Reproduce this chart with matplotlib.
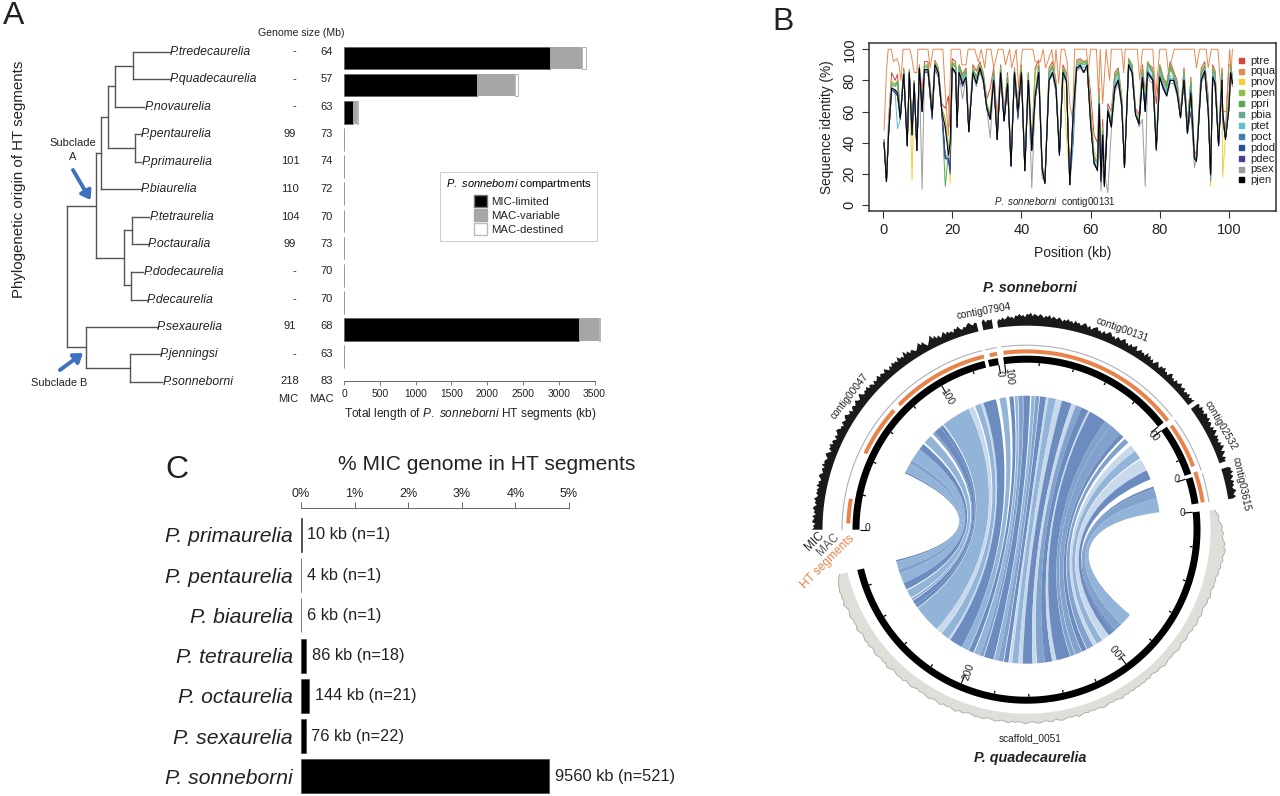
import numpy as np
import matplotlib
matplotlib.use('Agg')
import matplotlib.pyplot as plt
from matplotlib.patches import Patch, PathPatch, Polygon
from matplotlib.path import Path
from matplotlib.lines import Line2D

plt.rcParams['font.family'] = ['Liberation Sans', 'DejaVu Sans']
plt.rcParams['mathtext.fontset'] = 'custom'
plt.rcParams['mathtext.it'] = 'Liberation Sans:italic'
plt.rcParams['mathtext.rm'] = 'Liberation Sans'

W, H = 1280, 796
TXT = '#222222'

# ---------- Panel A data
species_a = ['P.tredecaurelia', 'P.quadecaurelia', 'P.novaurelia', 'P.pentaurelia', 'P.primaurelia',
             'P.biaurelia', 'P.tetraurelia', 'P.octauralia', 'P.dodecaurelia', 'P.decaurelia',
             'P.sexaurelia', 'P.jenningsi', 'P.sonneborni']
mic_size = ['-', '-', '-', '99', '101', '110', '104', '99', '-', '-', '91', '-', '218']
mac_size = ['64', '57', '63', '73', '74', '72', '70', '73', '70', '70', '68', '63', '83']
mic_limited = [2880, 1860, 125, 4, 4, 4, 4, 4, 4, 4, 3280, 4]
mac_variable = [450, 530, 55, 0, 0, 0, 0, 0, 0, 0, 285, 0]
mac_destined = [50, 40, 10, 0, 0, 0, 0, 0, 0, 0, 15, 0]
ticks_a = [0, 500, 1000, 1500, 2000, 2500, 3000, 3500]

# tree: (x0, x1, y) horizontal and (x, y0, y1) vertical branches
tree_h = [(66.8, 96.4, 206), (66.8, 85.7, 347.3), (96.4, 100.7, 153.2), (96.4, 124.4, 258),
          (100.7, 108.2, 116.6), (100.7, 141, 189), (108.2, 114.6, 86), (108.2, 135.1, 148),
          (114.6, 133.1, 65.6), (114.6, 144.2, 107), (133.1, 169.9, 51.6), (133.1, 169.9, 79.3),
          (135.1, 141, 134), (135.1, 141.4, 161.5), (124.4, 131.5, 230.4), (124.4, 130.7, 285.4),
          (131.5, 149.3, 216.5), (131.5, 148.1, 244), (130.7, 143.4, 272.4), (130.7, 146.5, 299.7),
          (85.7, 156.8, 327), (85.7, 129.6, 368), (129.6, 160, 354), (129.6, 162.3, 382)]
tree_v = [(66.8, 206, 347.3), (96.4, 153.2, 258), (100.7, 116.6, 189), (108.2, 86, 148),
          (114.6, 65.6, 107), (133.1, 51.6, 79.3), (135.1, 134, 161.5), (124.4, 230.4, 285.4),
          (131.5, 216.5, 244), (130.7, 272.4, 299.7), (85.7, 327, 368), (129.6, 354, 382)]
leaf_x = [169.9, 169.9, 144.2, 141, 141.4, 141, 149.3, 148.1, 143.4, 146.5, 156.8, 160, 162.3]
leaf_y = [51.6, 79.3, 107, 134, 161.5, 189, 216.5, 244, 272.4, 299.7, 327, 354, 382]
size_y = [51.6, 79, 106.6, 134, 161.5, 189, 216.5, 244, 271.5, 299, 326, 354, 381]

# ---------- Panel B data
pos = [0.3,1,1.6,2.5,3.5,4.2,5,6,7,7.6, 8.4,9,9.8,10.5,11.3,12,13,14.2,15,16,
       17,18,18.9,19.4,20,21,21.4,22,23,24, 24.8,26,27,28,29,30,31,32,33,34,
       35,36,37,38,39,40,41,42,43,44, 45,46,46.8,48,49,50,51,52,53,54,
       55,56,57,58,59,60,61,62,62.5,63, 63.5,64,65,66,67,68,69,69.8,71,72,
       73,74,75,75.8,76.5,77,78,79,80,81, 82,83,84,85,86,87,88,89,90,90.6,
       92,93,94,94.7,95.3,96,97,98,98.2,99, 100,100.5,101]
ptre = [42,16,55,85,80,84,58,88,40,87, 50,80,38,90,72,92,92,62,93,88,
        65,62,70,50,94,92,55,90,84,88, 50,90,86,92,85,68,75,88,55,90,
        60,85,30,88,66,90,25,85,40,88, 93,26,16,88,92,80,35,90,85,15,
        62,93,94,92,93,72,45,40,75,25, 55,20,65,60,85,88,70,28,94,90,
        62,58,90,70,92,90,88,65,90,82, 78,92,86,80,60,88,52,82,35,32,
        88,92,70,22,90,86,42,88,55,48, 90,90,82]
pos_qua = [0.3,1,1.5,2.4,3,4,4.6,5.2,5.8,7.7,8.2,9,9.8,10.1,13,13.6,14.5,17.3,18,18.9,19.7,22.3,22.8,24,24.6,
           26.5,27.5,28.4,29.4,30,31.2,32,33.3,34.7,35.4,36.6,37.2,38.5,39.2,40.3,43.3,44,45.5,46.3,47,48.8,49.5,50,50.8,
           51.5,52.5,53.2,54,54.8,55.4,58.8,59.3,60,61.7,62.3,62.8,63.5,64.5,65.5,66,69,69.6,70,73.5,74.2,75,78,78.8,79.4,80,81.8,
           82.5,84.2,85.3,90,90.6,91.5,93.4,94,94.9,96.8,97.5,98,99.2,100.2,100.6,101]
pqua = [48,86,100,100,92,94,90,80,100,100,96,85,85,100,100,88,100,100,72,45,100,100,90,90,100,
        100,92,100,88,100,100,88,100,100,90,100,88,100,75,100,100,92,92,100,88,100,85,100,78,
        100,100,92,65,55,100,100,85,100,100,70,100,65,100,80,100,100,85,100,100,80,100,100,70,85,100,100,
        85,100,100,100,88,100,100,88,100,100,80,60,60,100,85,100]
pnov = [41,15,50,80,77,78,57,86,40,86, 16,79,36,89,64,89,90,60,92,87,
        62,55,40,14,92,90,52,88,82,86, 48,88,82,90,84,65,60,85,48,88,
        56,82,28,87,62,88,24,84,38,86, 90,25,15,85,90,78,34,88,46,14,
        62,92,93,91,92,65,35,30,72,20, 50,16,62,55,82,86,68,26,93,88,
        60,55,87,65,90,88,85,40,88,80, 75,88,85,77,58,85,50,80,32,30,
        85,90,65,12,88,82,40,85,18,45, 72,88,80]
ppen = [41,15,48,79,78,80,57,87,39,86, 48,80,36,89,62,90,90,60,92,87,
        62,55,36,35,92,90,52,90,83,87, 48,88,83,90,84,65,58,86,46,88,
        56,83,27,87,62,88,24,85,37,86, 90,25,15,86,90,78,34,88,84,14,
        62,92,93,91,93,60,32,28,72,18, 50,15,62,55,83,87,68,26,94,90,
        60,55,88,66,92,90,86,40,90,82, 77,90,85,78,58,86,50,80,32,30,
        86,90,66,16,88,84,40,86,58,45, 70,90,82]
ppri = [41,15,47,78,77,79,57,86,39,86, 47,79,36,88,62,89,89,60,91,86,
        61,12,34,34,91,89,52,89,82,86, 48,87,82,89,83,64,57,85,45,87,
        56,82,27,86,61,87,24,84,36,72, 89,25,15,85,89,77,34,87,83,14,
        61,91,92,90,92,58,31,27,70,18, 48,14,62,54,82,86,67,25,93,89,
        60,54,87,65,91,89,85,39,89,81, 76,89,84,77,58,85,49,79,32,30,
        85,89,65,15,87,83,40,85,57,44, 68,89,81]
pbia = [40,15,46,77,76,78,56,86,39,85, 46,78,36,88,61,88,88,59,90,86,
        60,30,33,33,90,88,51,88,80,85, 48,86,81,88,82,63,56,84,44,86,
        55,80,26,86,60,86,23,83,36,71, 88,24,15,84,88,76,33,86,82,14,
        60,90,91,90,91,56,30,26,68,17, 47,13,61,53,80,85,66,25,92,88,
        59,53,86,63,90,88,84,38,87,79, 74,87,83,75,57,84,48,78,31,29,
        84,88,64,17,86,82,39,84,56,44, 66,88,80]
ptet = [39,15,45,76,72,49,55,85,38,85, 45,77,35,87,60,87,86,57,88,85,
        60,30,30,28,88,86,50,86,78,84, 47,85,79,87,80,62,55,82,43,85,
        54,78,25,85,58,85,22,81,35,70, 86,23,14,82,86,75,32,85,81,13,
        60,90,90,88,90,54,28,24,66,16, 46,12,60,51,78,83,65,24,91,86,
        58,52,84,61,88,85,82,37,85,77, 72,83,82,74,56,82,47,75,30,28,
        82,87,62,18,84,80,38,82,55,43, 64,86,78]
poct = [39,15,45,75,72,70,55,84,38,84, 45,77,35,87,60,86,86,56,88,84,
        60,30,28,24,88,85,50,85,77,82, 47,84,78,87,79,62,55,81,42,84,
        54,77,25,84,55,84,22,80,35,68, 85,23,14,81,85,74,32,84,80,13,
        40,88,88,86,88,56,26,23,64,16, 45,12,62,50,76,81,64,24,90,85,
        58,52,82,60,86,84,81,36,83,76, 71,81,81,73,56,81,46,74,30,28,
        81,86,60,20,83,78,38,81,54,42, 63,85,77]
pdod = [40,15,45,74,73,71,56,84,38,84, 45,78,35,87,60,86,86,55,88,85,
        60,30,30,20,88,85,50,85,77,82, 47,84,78,87,80,62,55,80,42,84,
        54,77,25,84,56,84,22,80,35,68, 85,23,14,80,85,75,32,85,80,13,
        58,88,89,85,89,54,27,23,62,16, 45,12,61,50,76,80,64,24,90,85,
        58,52,82,60,85,84,80,35,82,75, 70,80,80,72,56,80,46,60,30,28,
        80,86,60,20,82,78,38,80,58,42, 62,85,78]
pdec = [40,15,45,74,72,70,55,84,38,84, 45,77,35,87,60,85,85,56,88,82,
        60,30,30,22,87,84,50,85,76,82, 47,84,77,87,79,62,55,80,42,84,
        54,77,25,84,57,84,22,80,35,68, 85,23,14,80,84,74,32,84,80,13,
        58,88,89,85,88,52,27,22,62,16, 45,12,60,50,75,80,64,24,90,85,
        58,52,82,60,84,83,80,35,82,75, 70,80,80,72,56,80,46,70,30,28,
        80,85,60,19,82,76,38,80,59,42, 62,84,78]
psex = [42,18,45,74,74,72,58,83,40,85, 46,78,36,86,10,86,86,58,88,84,
        60,48,36,35,86,85,52,84,68,82, 50,84,76,86,78,62,43,80,44,84,
        60,76,28,84,60,84,24,80,11,68, 84,17,16,80,84,72,34,84,78,15,
        60,86,88,85,88,54,28,24,60,9, 27,20,8,48,72,78,62,26,88,84,
        60,50,55,12,85,80,78,38,82,74, 70,78,78,70,58,78,46,70,24,30,
        78,84,58,22,80,74,40,78,60,44, 62,82,76]
pjen = [40,15,45,75,74,72,56,84,38,85, 45,78,35,88,60,87,87,58,90,85,
        60,50,32,40,88,85,50,85,78,82, 47,85,78,88,80,62,55,80,42,85,
        54,78,25,85,60,85,22,80,35,70, 85,23,14,80,85,75,32,85,80,13,
        60,88,90,85,90,52,27,22,65,15, 45,12,60,50,75,80,64,24,90,85,
        58,52,82,60,85,83,80,36,82,75, 70,80,80,72,56,80,46,72,30,28,
        80,86,60,20,82,78,38,80,60,42, 62,85,78]
series_names = ['ptre', 'pqua', 'pnov', 'ppen', 'ppri', 'pbia', 'ptet', 'poct', 'pdod', 'pdec', 'psex', 'pjen']
series_vals = [ptre, pqua, pnov, ppen, ppri, pbia, ptet, poct, pdod, pdec, psex, pjen]
series_cols = ['#d9433f', '#e58a50', '#f2cf3a', '#8cc04b', '#56a94f', '#66a98c', '#62bfd0',
               '#3f7fb0', '#2a4f9a', '#4a3f8f', '#9b9b9b', '#000000']

# ---------- Panel C data
species_c = ['P. primaurelia', 'P. pentaurelia', 'P. biaurelia', 'P. tetraurelia', 'P. octaurelia',
             'P. sexaurelia', 'P. sonneborni']
pct_mic = [0.012, 0.006, 0.008, 0.10, 0.155, 0.09, 4.63]
notes_c = ['10 kb (n=1)', '4 kb (n=1)', '6 kb (n=1)', '86 kb (n=18)', '144 kb (n=21)', '76 kb (n=22)', '9560 kb (n=521)']

# ---------- Circos data (angles in degrees, heights in px-scale units)
contig_span = [('contig00047', 180, 104, 1), ('contig07904', 99.5, 102.8, -1), ('contig00131', 38.0, 97.7, -1),
               ('contig02532', 36.3, 18.8, 1), ('contig03615', 17.6, 8.7, 1)]
mic_span = {'contig00047': (180, 103.6), 'contig07904': (102.2, 99.4), 'contig00131': (98, 37.6),
            'contig02532': (36.3, 19), 'contig03615': (17.3, 8.6)}
scaffold_span = (6.0, -166.6)
ht_segments = [(178, 170), (154.7, 138), (135.6, 103.8), (101.9, 99.5), (97.4, 37.7), (35.7, 20.8), (18.9, 8.8)]
mic_track = {
    'contig00047': [9,7,8,6,9,8,7,9,6,8,7,9,8,6,8,7,9,7,6,8,7,8,6,9,7,8,6,7,9,8,6,7,8,6,9,7,8,7,6,8,
                    9,7,5,8,7,9,6,8,7,5,8,6,7,9,8,6,7,5,8,7,6,8,9,7,6,8,5,7,8,6,7,9,7,6,8,10,7,6,8,7,
                    9,6,8,7,5,8,6,7,9,6,8,7,6,9,7,5,8,6,9,7,8,6,10,7,8,6,11,7,9,6,8,7,5,6,8,10,7,9,6,4,
                    6,8,11,7,9,6,8,5,7,9,6,8,6,7,5,8,7,9,6,5,7,6,8,9,7,6,8,7],
    'contig07904': [7, 9, 6, 8, 7, 8],
    'contig00131': [5,7,6,8,6,7,9,7,8,6,9,8,10,8,9,7,10,9,11,8,10,9,8,10,9,7,9,8,10,7,9,8,7,9,8,6,8,7,9,7,
                    8,6,9,7,8,6,7,9,8,6,8,5,7,8,9,6,7,5,8,6,7,9,8,6,7,5,8,7,6,8,9,6,7,5,8,6,7,9,5,6,
                    8,6,7,5,9,6,8,5,7,4,6,8,6,4,7,6,8,5,6,4,7,8,5,6,4,7,5,6,8,5,6,7,4,6,5,7,4,6,5,7],
    'contig02532': [7,8,6,9,7,8,6,9,8,7,9,6,8,7,5,8,6,9,7,5,8,6,7,5,8,6,9,7,5,8,6,4,7,5,6],
    'contig03615': [6,8,7,9,6,8,7,5,8,6,7,5,6,8,6,5,7,4],
}
mac_track = [5,7,9,8,10,12,11,13,12,13,15,14,16,15,14,15,13,14,12,13,11,12,11,12,10,11,12,10,11,10,
             9,10,11,9,10,11,9,10,9,8,10,9,8,9,10,9,8,9,8,9,
             10,9,8,9,8,7,9,8,9,8,9,8,9,8,9,8,10,9,8,9,
             8,9,10,9,8,9,8,9,8,9,10,8,9,8,9,10,9,8,10,9,
             8,9,10,9,8,9,10,9,8,9,8,10,9,8,9,10,9,8,9,10,
             9,10,9,8,9,10,9,11,10,9,10,9,11,10,9,10,11,10,9,10,
             9,10,11,10,9,11,10,11,10,9,11,12,10,11,10,11,12,11,10,12,
             11,12,11,10,12,13,11,12,11,13,12,11,12,14,12,13,12,13,12,12,11,10,8]
# ribbons: top start, top end, bottom start, bottom end (bottom angles are below the horizontal), shade
ribbons = [(155.1,154.4,166.9,166.2,'D'), (154.4,150.4,166.2,162.8,'L'), (150.4,148.7,162.8,161,'M'),
           (148.7,143.1,161,156.5,'L'), (143.1,140.3,156.5,153.5,'D'), (139.5,135.7,153,149.5,'L'),
           (134.4,133.3,149.1,148.3,'M'), (133.3,130.2,148,146,'D'), (130.2,128.7,146,144.5,'D'),
           (128.2,115.6,144.2,132.1,'L'), (115.4,113.3,132,129.5,'P'), (112.6,110,129.3,125.7,'L'),
           (110,108.8,125.7,124.7,'P'), (108.8,103.2,124.7,118.9,'D'), (101.7,98.8,118.9,115.7,'L'),
           (97.4,95.6,115.5,113.4,'D'), (95.1,93.9,113,110.3,'L'), (93.6,91.6,110.3,108.8,'M'),
           (91.4,88.5,108.5,104.3,'D'), (87.9,86.4,104,102.1,'L'), (86.2,84.5,102.1,100,'M'),
           (84.2,81.6,99.7,97.8,'D'), (81.6,80.5,97.5,96.4,'P'), (80.5,77.3,96.2,93.5,'L'),
           (77.3,74.6,93.5,91.6,'P'), (74.6,70.3,91.6,87.4,'D'), (70.3,68.3,87.4,85.6,'P'),
           (68.3,65.7,85.4,82,'M'), (65.7,62.5,82,78.9,'D'), (62.5,61.7,78.9,77,'P'),
           (61.7,54,77,71,'D'), (54,51,70.8,68.8,'M'), (51,45.7,68.6,65.7,'M'), (45.7,43.7,65.5,63.3,'D'),
           (42.7,40.5,63,60.1,'M'), (38.9,35.9,60,58.5,'P'), (35.9,32.1,58.3,55.5,'L'),
           (31.6,26.3,55.2,52,'P'), (26.3,22.1,52,49.6,'D'), (18.8,17.8,49.6,48.6,'D'),
           (17.8,13.5,48.6,45,'M'), (13.5,7.5,45,39.4,'L')]
shade = {'L': '#93b4d9', 'M': '#82a2cd', 'D': '#6c8cc0', 'P': '#c9d9ec'}

fig = plt.figure(figsize=(W / 100, H / 100), dpi=100, facecolor='white')

def axes_px(x0, y0, x1, y1, **kw):
    return fig.add_axes([x0 / W, 1 - y1 / H, (x1 - x0) / W, (y1 - y0) / H], **kw)

# overlay in pixel coordinates
ov = axes_px(0, 0, W, H)
ov.set_xlim(0, W)
ov.set_ylim(H, 0)
ov.axis('off')

def T(x, y, s, size=8, ha='center', va='center', **kw):
    kw.setdefault('color', TXT)
    return ov.text(x, y, s, fontsize=size, ha=ha, va=va, **kw)

for x, y, s in [(14, 16, 'A'), (783, 22, 'B'), (177, 470, 'C')]:
    T(x, y, s, size=23, color='#222222')

# ---------- Panel A tree and table
for x0, x1, y in tree_h:
    ov.plot([x0, x1], [y, y], color='#555555', lw=1.0, solid_capstyle='projecting')
for x, y0, y1 in tree_v:
    ov.plot([x, x], [y0, y1], color='#555555', lw=1.0, solid_capstyle='projecting')
for name, x, y in zip(species_a, leaf_x, leaf_y):
    T(x, y, name, size=8.8, ha='left', style='italic')
for m, a, y in zip(mic_size, mac_size, size_y):
    T(294 if m == '-' else 290, y, m, size=8)
    T(327, y, a, size=8)
T(301, 33, 'Genome size (Mb)', size=7.6)
T(288, 399, 'MIC', size=8)
T(321.5, 399, 'MAC', size=8)
T(19, 179, 'Phylogenetic origin of HT segments', size=10.8, rotation=90)
T(73, 150, 'Subclade\nA', size=8, linespacing=1.5)
T(59, 383, 'Subclade B', size=7.9)
blue = '#3f6fbf'
ov.annotate('', xy=(90.5, 200), xytext=(73, 170),
            arrowprops=dict(arrowstyle='-|>,head_width=0.35,head_length=0.5', color=blue, lw=2.8, shrinkA=0, shrinkB=0))
ov.annotate('', xy=(83, 353), xytext=(60, 370),
            arrowprops=dict(arrowstyle='-|>,head_width=0.35,head_length=0.5', color=blue, lw=2.8, shrinkA=0, shrinkB=0))

# bars
axa = axes_px(344, 44, 610, 381)
axa.patch.set_alpha(0)
kb_per_px = 3500 / 250.5
axa.set_xlim(0, 266 * kb_per_px)
axa.set_ylim(11.89, -0.515)
rows = np.arange(len(mic_limited))
hgt = 0.835
axa.barh(rows, mic_limited, height=hgt, color='black', edgecolor='#555555', linewidth=0.4, label='MIC-limited')
axa.barh(rows, mac_variable, left=mic_limited, height=hgt, color='#a6a6a6', linewidth=0, label='MAC-variable')
left2 = np.add(mic_limited, mac_variable)
axa.barh(rows, mac_destined, left=left2, height=hgt, color='white', edgecolor='#999999', linewidth=0.5, label='MAC-destined')
for s in ['top', 'left', 'right']:
    axa.spines[s].set_visible(False)
axa.spines['bottom'].set_bounds(0, 3500)
axa.spines['bottom'].set_color('#666666')
axa.spines['bottom'].set_linewidth(0.7)
axa.set_yticks([])
axa.set_xticks(ticks_a)
axa.tick_params(axis='x', length=3, width=0.6, color='#666666', labelsize=7.4, labelcolor=TXT, pad=3)
axa.set_xlabel(r'Total length of $\it{P.\ sonneborni}$ HT segments (kb)', fontsize=8.6, color=TXT, labelpad=3)
axa.xaxis.set_label_coords(126 / 266, -0.075)
leg = axa.legend(handles=[Patch(facecolor='black', edgecolor='#777777', label='MIC-limited'),
                          Patch(facecolor='#a6a6a6', edgecolor='#a6a6a6', label='MAC-variable'),
                          Patch(facecolor='white', edgecolor='#bbbbbb', label='MAC-destined')],
                 title=r'$\it{P.\ sonneborni}$ compartments', title_fontsize=8, fontsize=8.2,
                 loc='upper left', bbox_to_anchor=(440 / W, 1 - 171.5 / H), bbox_transform=fig.transFigure,
                 borderaxespad=0, fancybox=False, framealpha=1, edgecolor='#cccccc', handlelength=1.1,
                 handleheight=1.15, labelspacing=0.22, handletextpad=0.35, borderpad=0.5)
leg._legend_box.sep = 3
for t in leg.get_texts():
    t.set_color(TXT)
leg.get_frame().set_linewidth(0.7)

# ---------- Panel B
axb = axes_px(869, 43, 1276, 211)
axb.set_xlim(-4.05, 113.6)
axb.set_ylim(-3.85, 104)
for name, vals, col in zip(series_names, series_vals, series_cols):
    axb.plot(pos_qua if name == 'pqua' else pos, vals, color=col, lw=0.7, solid_joinstyle='round', label=name)
axb.set_xticks([0, 20, 40, 60, 80, 100])
axb.set_yticks([0, 20, 40, 60, 80, 100])
axb.tick_params(axis='both', length=5, width=0.8, color='#333333', labelsize=10.5, labelcolor=TXT, pad=4)
for lab in axb.get_yticklabels():
    lab.set_rotation(90)
    lab.set_va('center')
for s in axb.spines.values():
    s.set_linewidth(1.1)
    s.set_color('#333333')
axb.set_xlabel('Position (kb)', fontsize=10, color=TXT, labelpad=6)
axb.set_ylabel('Sequence identity (%)', fontsize=9.8, color=TXT, labelpad=6)
axb.text(49.7, 2, r'$\it{P.\ sonneborni}$  contig00131', fontsize=7, ha='center', va='center', color=TXT)
handles = [Line2D([], [], marker='s', ls='none', ms=3.6, color=c, label=n) for n, c in zip(series_names, series_cols)]
legb = axb.legend(handles=handles, loc='upper left', bbox_to_anchor=(1234 / W, 1 - 55.5 / H), bbox_transform=fig.transFigure,
                  frameon=False, fontsize=8, labelspacing=0.08, handletextpad=0.3, borderaxespad=0, borderpad=0, handlelength=1.2)
for t in legb.get_texts():
    t.set_color(TXT)

# ---------- Panel C
axc = axes_px(301, 508, 569, 796)
axc.patch.set_alpha(0)
axc.set_xlim(0, 5)
axc.set_ylim(6.49, -0.67)
rc = np.arange(len(species_c))
axc.barh(rc, pct_mic, height=0.85, color='black', edgecolor='#444444', linewidth=0.5)
axc.xaxis.tick_top()
axc.set_xticks([0, 1, 2, 3, 4, 5])
axc.set_xticklabels([f'{i}%' for i in range(6)])
axc.tick_params(axis='x', length=4.5, width=0.7, color='#666666', labelsize=9, labelcolor=TXT, pad=1.5)
axc.set_yticks(rc)
axc.set_yticklabels(species_c, fontsize=15.2, style='italic', color=TXT)
axc.tick_params(axis='y', length=0, pad=6)
for s in ['left', 'right', 'bottom']:
    axc.spines[s].set_visible(False)
axc.spines['top'].set_color('#666666')
axc.spines['top'].set_linewidth(0.7)
for i, (v, n) in enumerate(zip(pct_mic, notes_c)):
    axc.annotate(n, xy=(v, i), xytext=(4, 0), textcoords='offset points', fontsize=11.8, va='center', color=TXT)
T(487, 464, '% MIC genome in HT segments', size=15.1)

# ---------- Circos
CX, CY = 1026.5, 529.7

def pt(r, a):
    a = np.radians(a)
    return CX + r * np.cos(a), CY - r * np.sin(a)

def band(a0, a1, r0, r1, **kw):
    aa = np.linspace(a0, a1, max(3, int(abs(a1 - a0) * 2)))
    x0, y0 = pt(r0, aa)
    x1, y1 = pt(r1, aa[::-1])
    ov.add_patch(Polygon(np.c_[np.r_[x0, x1], np.r_[y0, y1]], closed=True, linewidth=0, **kw))

KB = 0.595
R_OUT, R_IN = 174.0, 167.0

def ring(a0, a1, sign):
    band(a0, a1, R_IN, R_OUT, facecolor='black')
    length = abs(a1 - a0) / KB
    for kb in range(0, int(length) + 1, 20):
        a = a0 - sign * kb * KB
        major = kb % 100 == 0
        x, y = pt(np.array([R_IN - (9 if major else 2.8), R_IN]), a)
        ov.plot(x, y, color='black', lw=0.8 if major else 0.9, solid_capstyle='butt')

for name, a0, a1, sign in contig_span:
    ring(a0, a1, sign)
    arc = np.linspace(a0, a1, 80)
    xa, ya = pt(184.5, arc)
    ov.plot(xa, ya, color='#aab2b8', lw=0.8)
    h = np.array(mic_track[name], dtype=float) * 1.2
    aa = np.linspace(mic_span[name][0], mic_span[name][1], len(h))
    xo, yo = pt(204.0 + h, aa)
    xi, yi = pt(204.0, aa[::-1])
    ov.add_patch(Polygon(np.c_[np.r_[xo, xi], np.r_[yo, yi]], closed=True, facecolor='#1a1a1a', linewidth=0))
ring(scaffold_span[0], scaffold_span[1], 1)

for a0, a1 in ht_segments:
    band(a0, a1, 176.3, 180.3, facecolor='#e8834a')

h = np.array(mac_track, dtype=float)
aa = np.linspace(scaffold_span[0], scaffold_span[1], len(h))
xo, yo = pt(184.0 + h, aa)
xi, yi = pt(184.0, aa[::-1])
ov.add_patch(Polygon(np.c_[np.r_[xo, xi], np.r_[yo, yi]], closed=True, facecolor='#dfdfda', linewidth=0))
ov.plot(xo, yo, color='#a9a9a3', lw=0.6)

R_RIB = 134.0
K = 0.38
for a1, a2, b1, b2, kind in ribbons:
    top = np.linspace(a1, a2, 12)
    bot = np.linspace(-b2, -b1, 12)
    xt, yt = pt(R_RIB, top)
    xb, yb = pt(R_RIB, bot)
    c1 = pt(R_RIB * K, a2)
    c2 = pt(R_RIB * K, -b2)
    c3 = pt(R_RIB * K, -b1)
    c4 = pt(R_RIB * K, a1)
    verts = list(zip(xt, yt)) + [c1, c2, (xb[0], yb[0])] + list(zip(xb[1:], yb[1:])) + [c3, c4, (xt[0], yt[0])]
    codes = [Path.MOVETO] + [Path.LINETO] * 11 + [Path.CURVE4] * 3 + [Path.LINETO] * 11 + [Path.CURVE4] * 3
    ov.add_patch(PathPatch(Path(verts, codes), facecolor=shade[kind], edgecolor='none', linewidth=0))

for x, y, s, rot in [(850, 396.7, 'contig00047', 52), (984.3, 311.7, 'contig07904', 10), (1122.3, 330, 'contig00131', -20),
                     (1221, 425, 'contig02532', -60), (1241.7, 484, 'contig03615', -78), (1030, 737.7, 'scaffold_0051', 0)]:
    T(x, y, s, size=7.3, rotation=rot)
T(1030, 288, 'P. sonneborni', size=10.4, weight='bold', style='italic')
T(1030, 758, 'P. quadecaurelia', size=10.4, weight='bold', style='italic')
T(814.3, 541, 'MIC', size=8.5, rotation=45)
T(828.3, 544.3, 'MAC', size=8.5, rotation=45, color='#555555')
T(827.7, 561.7, 'HT segments', size=8.6, rotation=45, color='#e8834a')
for x, y, s, rot in [(867.3, 528.3, '0', 0), (947.3, 397.3, '100', -60), (1000, 373.3, '0', -85), (1009.3, 376.7, '100', -85),
                     (1152, 434, '0', -50), (1155, 437, '0', -50), (1176.7, 479.3, '0', -5), (1183, 513, '0', 0),
                     (1118.3, 650, '100', 130), (968.3, 671.7, '200', 70)]:
    T(x, y, s, size=7.4, rotation=rot)

fig.savefig('out.png', dpi=100)
